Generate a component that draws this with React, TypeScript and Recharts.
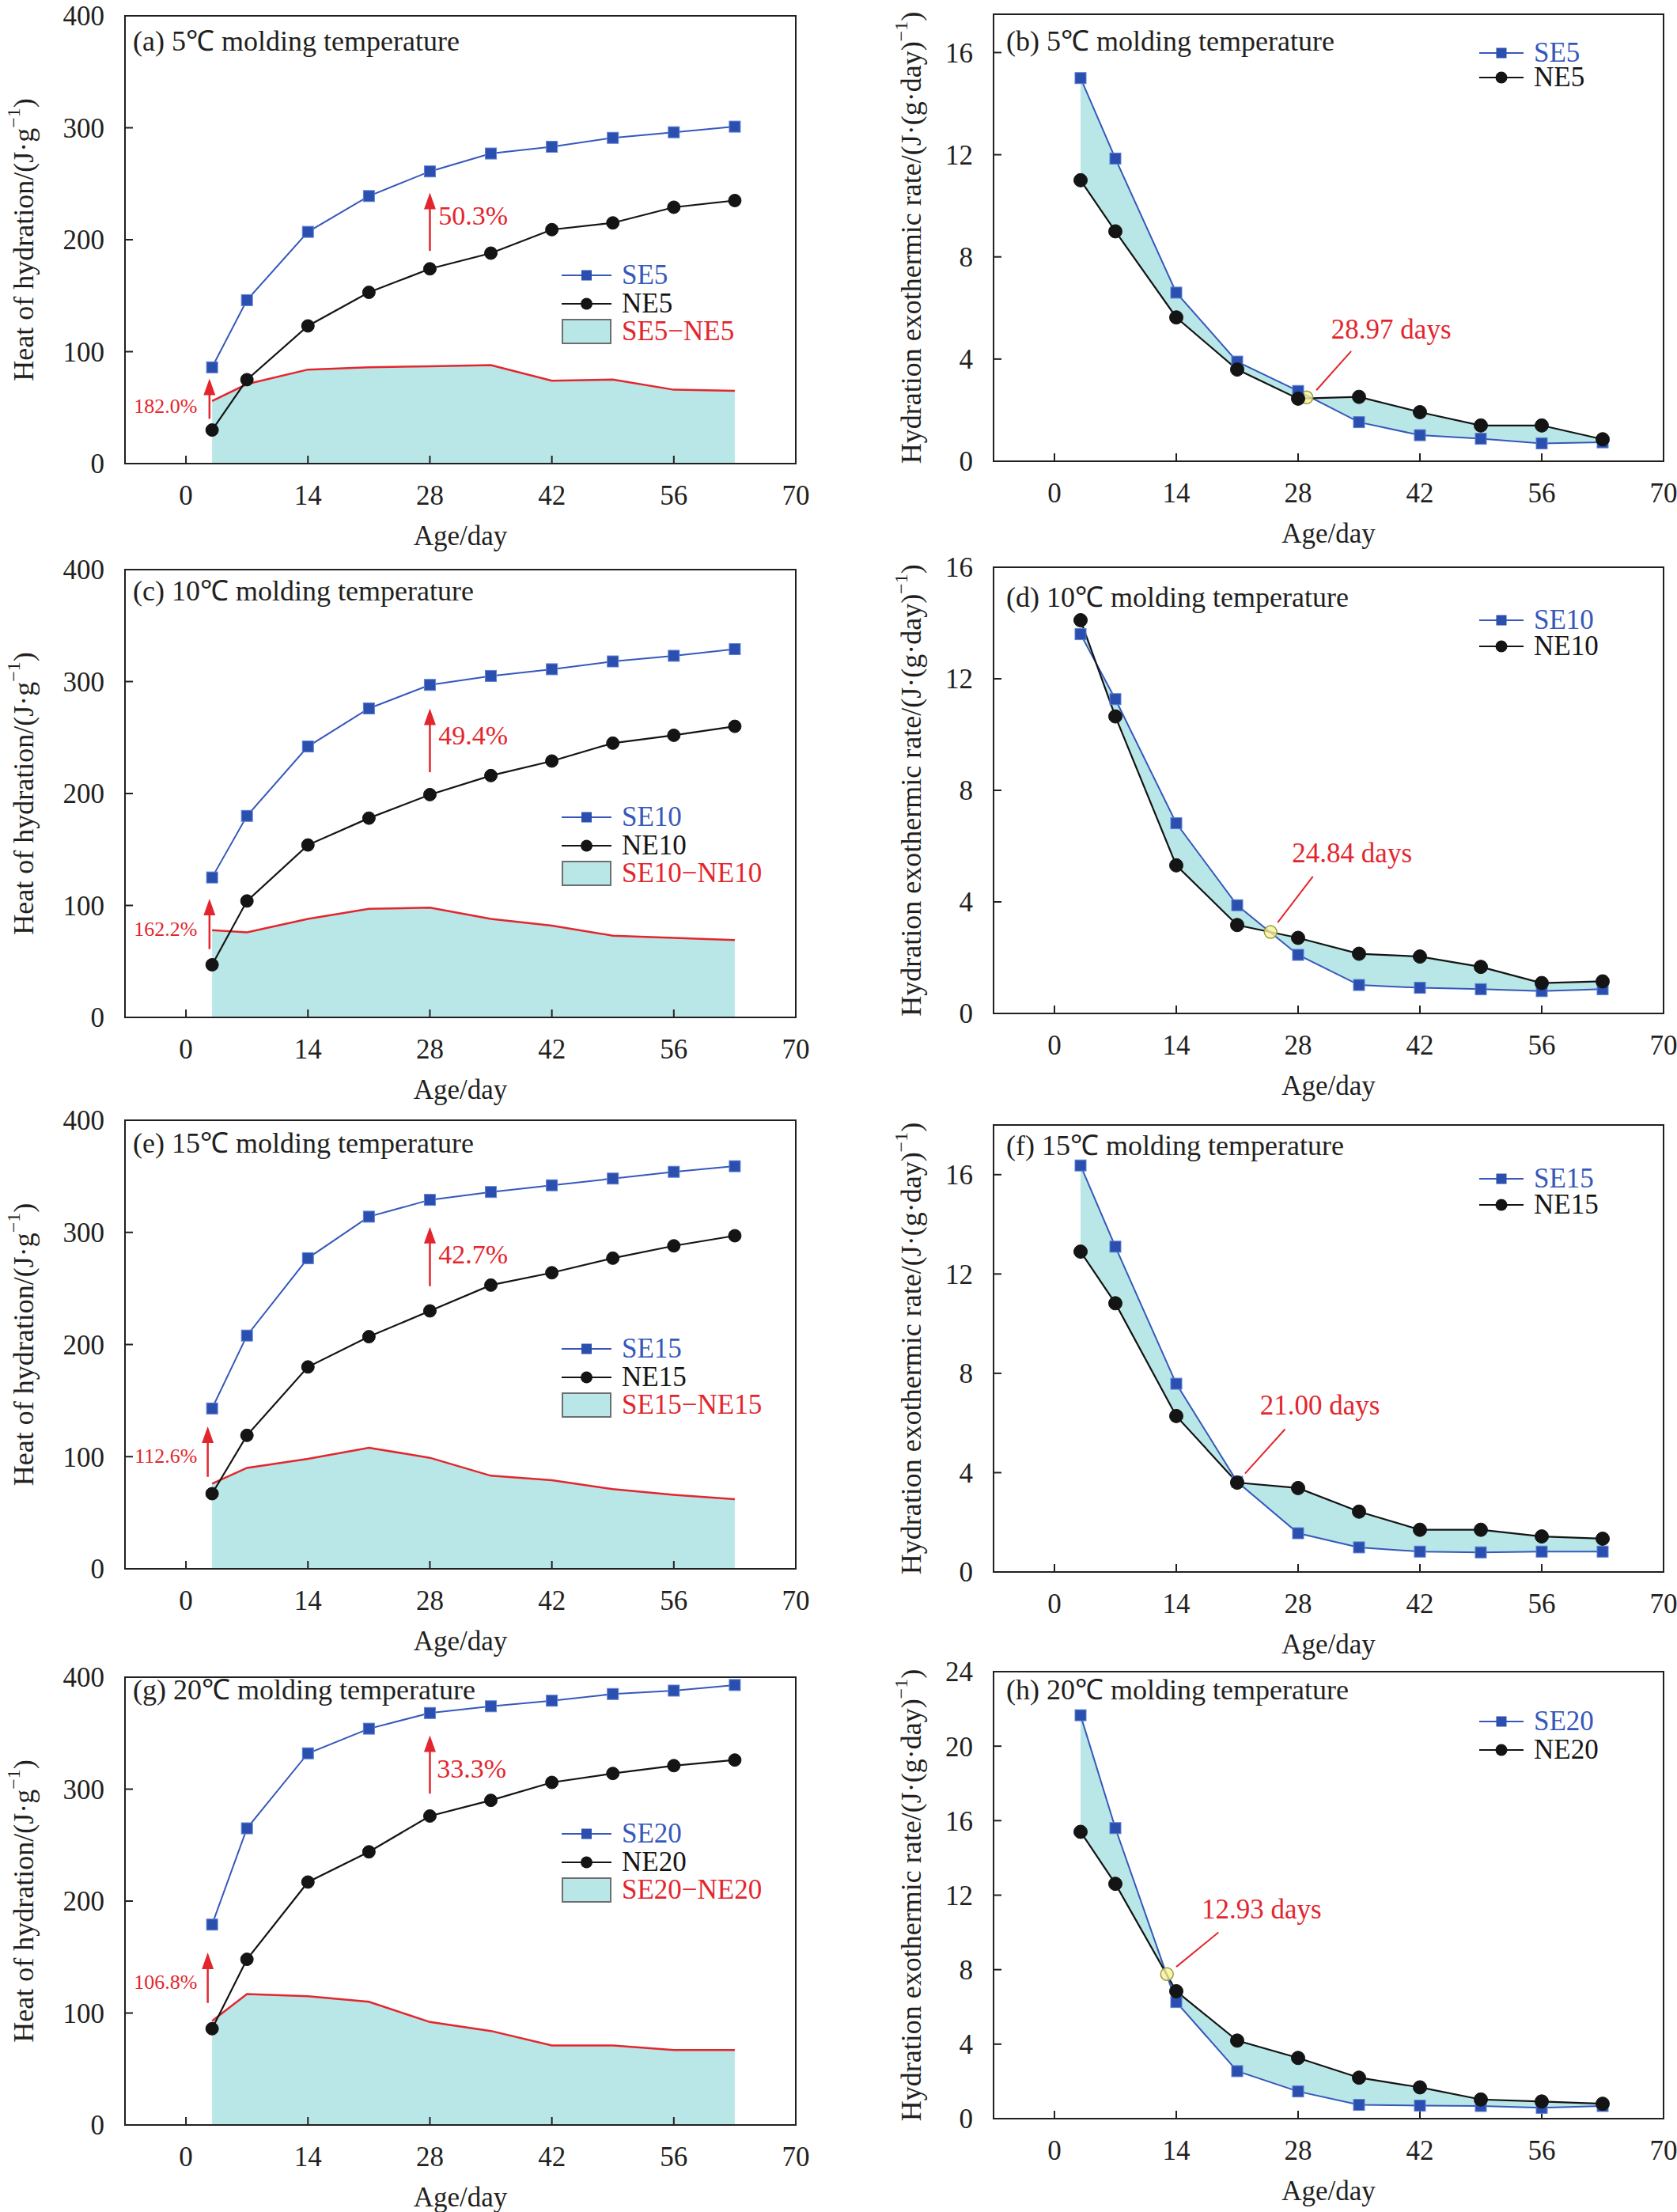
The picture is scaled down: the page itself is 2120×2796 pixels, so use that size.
import React from 'react'
import { ComposedChart, Line, Area, XAxis, YAxis, Legend, ReferenceArea, ReferenceLine, ReferenceDot } from 'recharts'

const SERIF = '"Liberation Serif", "Times New Roman", Times, serif'
const INK = '#231f20'
const BLUE = '#3658bb'
const BLUE_MARK = '#2b4fae'
const BLACK = '#141414'
const RED = '#e3262e'
const TEAL = '#b9e6e6'

const ages = [3, 7, 14, 21, 28, 35, 42, 49, 56, 63]
const ageTicks = [0, 14, 28, 42, 56, 70]
const heatTicks = [0, 100, 200, 300, 400]

// heat of hydration (J/g), panels (a) (c) (e) (g)
const heatSE5 = [86, 146, 207, 239, 261, 277, 283, 291, 296, 301]
const heatNE5 = [30, 75, 123, 153, 174, 188, 209, 215, 229, 235]
const heatDiff5 = [56, 71, 84, 86, 87, 88, 74, 75, 66, 65]

const heatSE10 = [125, 180, 242, 276, 297, 305, 311, 318, 323, 329]
const heatNE10 = [47, 104, 154, 178, 199, 216, 229, 245, 252, 260]
const heatDiff10 = [78, 76, 88, 97, 98, 88, 82, 73, 71, 69]

const heatSE15 = [143, 208, 277, 314, 329, 336, 342, 348, 354, 359]
const heatNE15 = [67, 119, 180, 207, 230, 253, 264, 277, 288, 297]
const heatDiff15 = [76, 90, 98, 108, 99, 83, 79, 71, 66, 62]

const heatSE20 = [179, 265, 332, 354, 368, 374, 379, 385, 388, 393]
const heatNE20 = [86, 148, 217, 244, 276, 290, 306, 314, 321, 326]
const heatDiff20 = [93, 117, 115, 110, 92, 84, 71, 71, 67, 67]

// hydration exothermic rate (J/(g·day)), panels (b) (d) (f) (h)
const rateSE5 = [15.0, 11.85, 6.6, 3.9, 2.75, 1.53, 1.02, 0.88, 0.7, 0.74]
const rateNE5 = [11.0, 9.0, 5.63, 3.59, 2.45, 2.52, 1.92, 1.4, 1.4, 0.86]

const rateSE10 = [13.6, 11.27, 6.82, 3.88, 2.1, 1.02, 0.92, 0.87, 0.8, 0.87]
const rateNE10 = [14.1, 10.65, 5.31, 3.17, 2.71, 2.14, 2.04, 1.67, 1.09, 1.15]

const rateSE15 = [16.37, 13.1, 7.58, 3.63, 1.56, 0.99, 0.82, 0.79, 0.82, 0.82]
const rateNE15 = [12.9, 10.82, 6.28, 3.6, 3.38, 2.43, 1.7, 1.7, 1.43, 1.34]

const rateSE20 = [21.66, 15.6, 6.26, 2.55, 1.46, 0.74, 0.7, 0.68, 0.58, 0.68]
const rateNE20 = [15.4, 12.61, 6.84, 4.19, 3.26, 2.2, 1.68, 1.03, 0.92, 0.8]

const rowsOf = (se: number[], ne: number[], diff?: number[]) =>
  ages.map((day, i) => ({ day, se: se[i], ne: ne[i], diff: diff ? diff[i] : null }))

const heatPanels = [
  {
    id: 'a', title: '(a) 5℃ molding temperature', boxTop: 20, boxH: 566, titleDy: 44, legendTop: 330,
    names: ['SE5', 'NE5', 'SE5−NE5'], rows: rowsOf(heatSE5, heatNE5, heatDiff5),
    arrows: [{ x: 28, from: 190, to: 242 }, { x: 2.7, from: 40, to: 76 }],
    notes: [{ x: 28.9, y: 222, text: '50.3%', side: 'right', size: 34 }, { x: 1.4, y: 52, text: '182.0%', side: 'left', size: 26 }],
  },
  {
    id: 'c', title: '(c) 10℃ molding temperature', boxTop: 720, boxH: 566, titleDy: 39, legendTop: 1015,
    names: ['SE10', 'NE10', 'SE10−NE10'], rows: rowsOf(heatSE10, heatNE10, heatDiff10),
    arrows: [{ x: 28, from: 219, to: 276 }, { x: 2.7, from: 61, to: 106 }],
    notes: [{ x: 28.9, y: 252, text: '49.4%', side: 'right', size: 34 }, { x: 1.4, y: 79, text: '162.2%', side: 'left', size: 26 }],
  },
  {
    id: 'e', title: '(e) 15℃ molding temperature', boxTop: 1416, boxH: 567, titleDy: 41, legendTop: 1687,
    names: ['SE15', 'NE15', 'SE15−NE15'], rows: rowsOf(heatSE15, heatNE15, heatDiff15),
    arrows: [{ x: 28, from: 252, to: 305 }, { x: 2.5, from: 82, to: 127 }],
    notes: [{ x: 28.9, y: 281, text: '42.7%', side: 'right', size: 34 }, { x: 1.4, y: 101, text: '112.6%', side: 'left', size: 26 }],
  },
  {
    id: 'g', title: '(g) 20℃ molding temperature', boxTop: 2120, boxH: 566, titleDy: 28, legendTop: 2300,
    names: ['SE20', 'NE20', 'SE20−NE20'], rows: rowsOf(heatSE20, heatNE20, heatDiff20),
    arrows: [{ x: 28, from: 296, to: 348 }, { x: 2.5, from: 109, to: 154 }],
    notes: [{ x: 28.7, y: 319, text: '33.3%', side: 'right', size: 34 }, { x: 1.4, y: 128, text: '106.8%', side: 'left', size: 26 }],
  },
]

const ratePanels = [
  {
    id: 'b', title: '(b) 5℃ molding temperature', boxTop: 18, boxH: 565, yMax: 17.5, ticks: [0, 4, 8, 12, 16],
    titleDy: 46, legendTop: 51.5, rowH: 31, names: ['SE5', 'NE5'], rows: rowsOf(rateSE5, rateNE5),
    cross: { x: 28.97, y: 2.5 }, leader: [{ x: 30.1, y: 2.78 }, { x: 34.1, y: 4.31 }], note: { x: 38.7, y: 5.19, text: '28.97 days' },
  },
  {
    id: 'd', title: '(d) 10℃ molding temperature', boxTop: 717, boxH: 564, yMax: 16, ticks: [0, 4, 8, 12, 16],
    titleDy: 50, legendTop: 767.5, rowH: 33, names: ['SE10', 'NE10'], rows: rowsOf(rateSE10, rateNE10),
    cross: { x: 24.84, y: 2.92 }, leader: [{ x: 25.65, y: 3.26 }, { x: 29.7, y: 4.91 }], note: { x: 34.2, y: 5.76, text: '24.84 days' },
  },
  {
    id: 'f', title: '(f) 15℃ molding temperature', boxTop: 1422, boxH: 565, yMax: 18, ticks: [0, 4, 8, 12, 16],
    titleDy: 38, legendTop: 1473.5, rowH: 33, names: ['SE15', 'NE15'], rows: rowsOf(rateSE15, rateNE15),
    cross: { x: 21, y: 3.6 }, leader: [{ x: 21.9, y: 3.96 }, { x: 26.5, y: 5.75 }], note: { x: 30.5, y: 6.75, text: '21.00 days' },
  },
  {
    id: 'h', title: '(h) 20℃ molding temperature', boxTop: 2113, boxH: 565, yMax: 24, ticks: [0, 4, 8, 12, 16, 20, 24],
    titleDy: 35, legendTop: 2158, rowH: 36, names: ['SE20', 'NE20'], rows: rowsOf(rateSE20, rateNE20),
    cross: { x: 12.93, y: 7.76 }, leader: [{ x: 14.0, y: 8.15 }, { x: 18.85, y: 10.0 }], note: { x: 23.8, y: 11.27, text: '12.93 days' },
  },
]

const squareDot = (size: number) => (props: any) => {
  const { cx, cy, index } = props
  if (cx == null || cy == null) return <g key={`sq-${index}`} />
  return <rect key={`sq-${index}`} x={cx - size / 2} y={cy - size / 2} width={size} height={size} fill={BLUE_MARK} stroke="#5d80d8" strokeWidth={1} />
}

const arrowShape = (props: any) => {
  const { x1, y1, y2 } = props
  const tip = Math.min(y1, y2)
  const tail = Math.max(y1, y2)
  return (
    <g>
      <line x1={x1} x2={x1} y1={tail} y2={tip + 14} stroke={RED} strokeWidth={2.5} />
      <polygon points={`${x1},${tip} ${x1 - 7.5},${tip + 21} ${x1 + 7.5},${tip + 21}`} fill={RED} />
    </g>
  )
}

const yLabel = (main: string, offset: number) => (props: any) => {
  const vb = props.viewBox || { x: 0, y: 0, width: 0, height: 0 }
  const cx = vb.x + offset
  const cy = vb.y + vb.height / 2
  return (
    <text x={cx} y={cy} transform={`rotate(-90 ${cx} ${cy})`} textAnchor="middle" dominantBaseline="central"
      fontSize={36} fontFamily={SERIF} fill={INK}>
      {main}
      <tspan dy={-13} fontSize={24}>−1</tspan>
      <tspan dy={13}>)</tspan>
    </text>
  )
}

const titleLabel = (title: string, dx: number, dy: number) => (props: any) => {
  const vb = props.viewBox || { x: 0, y: 0 }
  return <text x={vb.x + dx} y={vb.y + dy} fontSize={36} fontFamily={SERIF} fill={INK}>{title}</text>
}

function legendIcon(type: string, w: number) {
  if (type === 'rect') return <rect x={1} y={1} width={w - 2} height={30} fill={TEAL} stroke="#6d6e70" strokeWidth={2} />
  const line = <line x1={0} x2={w} y1={16} y2={16} stroke={type === 'square' ? BLUE : BLACK} strokeWidth={2} />
  if (type === 'square') return <g>{line}<rect x={w / 2 - 6.5} y={9.5} width={13} height={13} fill={BLUE_MARK} /></g>
  return <g>{line}<circle cx={w / 2} cy={16} r={7.5} fill={BLACK} /></g>
}

function KeyList({ payload, rowHs, iconW }: any) {
  const order = ['se', 'ne', 'diff']
  const items = order.map((k) => (payload || []).find((e: any) => e.dataKey === k)).filter(Boolean)
  return (
    <div style={{ fontFamily: SERIF, fontSize: 35, lineHeight: '28px' }}>
      {items.map((e: any, i: number) => (
        <div key={e.dataKey} style={{ display: 'flex', alignItems: 'center', height: rowHs[i] }}>
          <svg width={iconW} height={32} style={{ flex: 'none' }}>{legendIcon(e.type, iconW)}</svg>
          <span style={{ marginLeft: 13, color: e.color, lineHeight: '28px', height: 28, overflow: 'visible' }}>{e.value}</span>
        </div>
      ))}
    </div>
  )
}

const axisProps = {
  axisLine: { stroke: INK, strokeWidth: 2 },
  tickLine: { stroke: INK, strokeWidth: 2 },
  tick: { fontSize: 35, fill: INK, fontFamily: SERIF },
  tickSize: -10,
}

function HeatPanel({ p }: { p: any }) {
  const boxLeft = 158, boxW = 848, yw = 158, mTop = 30, mRight = 30, xh = 103, mBottom = 14
  const top = p.boxTop - mTop
  return (
    <div style={{ position: 'absolute', left: boxLeft - yw, top }}>
      <ComposedChart width={yw + boxW + mRight} height={mTop + p.boxH + xh + mBottom} data={p.rows}
        margin={{ top: mTop, right: mRight, bottom: mBottom, left: 0 }}>
        <XAxis type="number" dataKey="day" domain={[-7, 70]} ticks={ageTicks} interval={0} height={xh} tickMargin={37} {...axisProps}
          label={{ value: 'Age/day', position: 'insideBottom', offset: 0, fontSize: 35, fontFamily: SERIF, fill: INK }} />
        <YAxis type="number" domain={[0, 400]} ticks={heatTicks} interval={0} width={yw} tickMargin={36} {...axisProps}
          label={yLabel('Heat of hydration/(J·g', 30)} />
        <Area type="linear" dataKey="diff" name={p.names[2]} stroke={RED} strokeWidth={2.5} fill={TEAL} fillOpacity={1}
          legendType="rect" dot={false} activeDot={false} isAnimationActive={false} />
        <Line type="linear" dataKey="se" name={p.names[0]} stroke={BLUE} strokeWidth={2} dot={squareDot(14)}
          activeDot={false} legendType="square" isAnimationActive={false} />
        <Line type="linear" dataKey="ne" name={p.names[1]} stroke={BLACK} strokeWidth={2.2}
          dot={{ r: 8, fill: BLACK, stroke: BLACK, strokeWidth: 1 }} activeDot={false} legendType="circle" isAnimationActive={false} />
        <ReferenceArea x1={-7} x2={70} y1={0} y2={400} fill="none" fillOpacity={0} stroke={INK} strokeWidth={2}
          ifOverflow="visible" label={titleLabel(p.title, 10, p.titleDy)} />
        {p.arrows.map((a: any, i: number) => (
          <ReferenceLine key={`ar${i}`} segment={[{ x: a.x, y: a.from }, { x: a.x, y: a.to }]} shape={arrowShape} ifOverflow="visible" />
        ))}
        {p.notes.map((n: any, i: number) => (
          <ReferenceDot key={`nt${i}`} x={n.x} y={n.y} r={1} fill="none" stroke="none" ifOverflow="visible"
            label={{ value: n.text, position: n.side, offset: 0, fill: RED, fontSize: n.size, fontFamily: SERIF }} />
        ))}
        <Legend layout="vertical" align="center" verticalAlign="middle"
          wrapperStyle={{ left: 710, top: p.legendTop - top, width: 330 }}
          content={(props: any) => <KeyList {...props} rowHs={[36, 36, 34]} iconW={63} />} />
      </ComposedChart>
    </div>
  )
}

function RatePanel({ p }: { p: any }) {
  const boxLeft = 1256, boxW = 847, yw = 196, mTop = 30, mRight = 17, xh = 103, mBottom = 14
  const top = p.boxTop - mTop
  return (
    <div style={{ position: 'absolute', left: boxLeft - yw, top }}>
      <ComposedChart width={yw + boxW + mRight} height={mTop + p.boxH + xh + mBottom} data={p.rows}
        margin={{ top: mTop, right: mRight, bottom: mBottom, left: 0 }}>
        <XAxis type="number" dataKey="day" domain={[-7, 70]} ticks={ageTicks} interval={0} height={xh} tickMargin={37} {...axisProps}
          label={{ value: 'Age/day', position: 'insideBottom', offset: 0, fontSize: 35, fontFamily: SERIF, fill: INK }} />
        <YAxis type="number" domain={[0, p.yMax]} ticks={p.ticks} interval={0} width={yw} tickMargin={36} {...axisProps}
          label={yLabel('Hydration exothermic rate/(J·(g·day)', 92)} />
        <Area type="linear" dataKey={(d: any) => [d.ne, d.se]} stroke="none" fill={TEAL} fillOpacity={1}
          legendType="none" dot={false} activeDot={false} isAnimationActive={false} />
        <Line type="linear" dataKey="se" name={p.names[0]} stroke={BLUE} strokeWidth={2} dot={squareDot(14)}
          activeDot={false} legendType="square" isAnimationActive={false} />
        <Line type="linear" dataKey="ne" name={p.names[1]} stroke={BLACK} strokeWidth={2.2}
          dot={{ r: 8.5, fill: BLACK, stroke: BLACK, strokeWidth: 1 }} activeDot={false} legendType="circle" isAnimationActive={false} />
        <ReferenceArea x1={-7} x2={70} y1={0} y2={p.yMax} fill="none" fillOpacity={0} stroke={INK} strokeWidth={2}
          ifOverflow="visible" label={titleLabel(p.title, 16, p.titleDy)} />
        <ReferenceLine segment={p.leader} stroke={RED} strokeWidth={2} ifOverflow="visible" />
        <ReferenceDot x={p.cross.x} y={p.cross.y} r={8} fill="#f6f39c" fillOpacity={0.8} stroke="#9c9a3c" strokeWidth={1.5} ifOverflow="visible" />
        <ReferenceDot x={p.note.x} y={p.note.y} r={1} fill="none" stroke="none" ifOverflow="visible"
          label={{ value: p.note.text, position: 'center', offset: 0, fill: RED, fontSize: 35, fontFamily: SERIF }} />
        <Legend layout="vertical" align="center" verticalAlign="middle"
          wrapperStyle={{ left: 1870 - (boxLeft - yw), top: p.legendTop - top, width: 200 }}
          content={(props: any) => <KeyList {...props} rowHs={[p.rowH, p.rowH]} iconW={56} />} />
      </ComposedChart>
    </div>
  )
}

export default function App() {
  return (
    <div style={{ position: 'absolute', left: 0, top: 0, width: 2120, height: 2796, background: '#fff', overflow: 'hidden' }}>
      {heatPanels.map((p) => <HeatPanel key={p.id} p={p} />)}
      {ratePanels.map((p) => <RatePanel key={p.id} p={p} />)}
    </div>
  )
}
